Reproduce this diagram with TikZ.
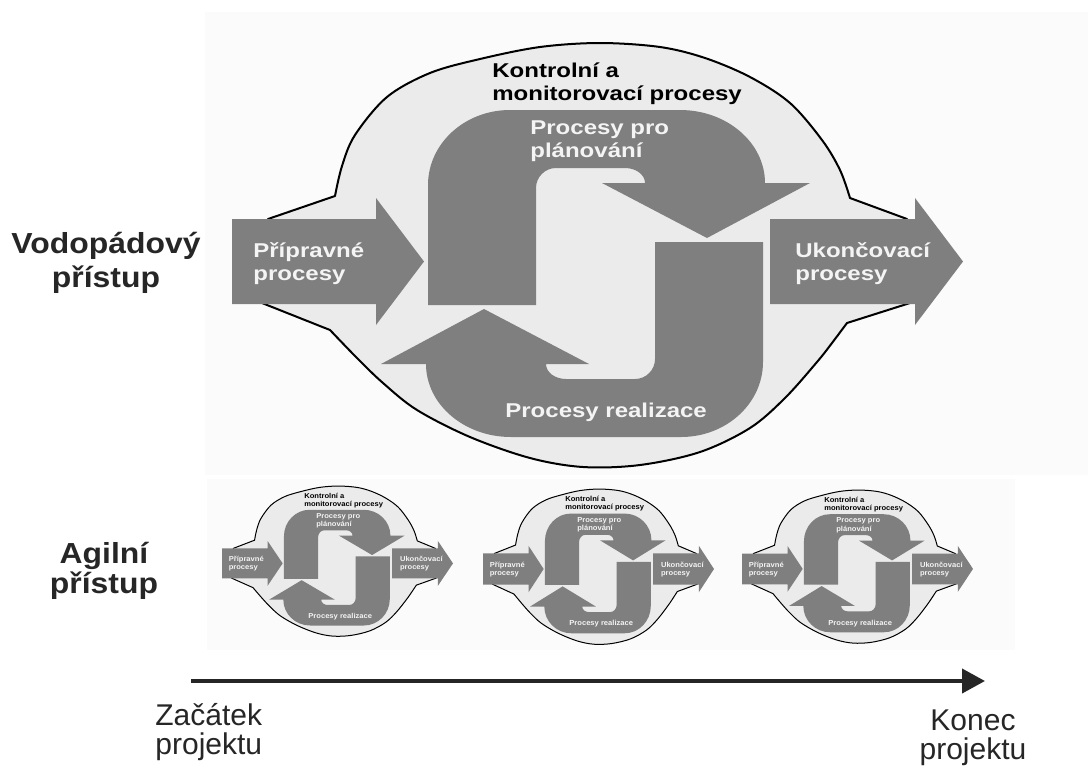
\documentclass[tikz,border=0pt]{standalone}
\usepackage{fontspec}
\setmainfont{Liberation Sans}
\newfontfamily\diagfont[FakeStretch=1.2]{Liberation Sans}
\newfontfamily\sidefont[FakeStretch=1.1]{Liberation Sans}
\usetikzlibrary{arrows.meta}
\definecolor{bandgray}{HTML}{7F7F7F}
\definecolor{blobgray}{HTML}{EBEBEB}
\definecolor{textdark}{HTML}{262626}
\definecolor{panelgray}{HTML}{FBFBFB}
\definecolor{labelwhite}{HTML}{F4F4F4}
\tikzset{
  blobshape/.style={fill=blobgray, draw=black, line join=round},
  band/.style={fill=bandgray},
  flowarrow/.style={fill=bandgray},
  panel/.style={fill=panelgray},
  inlabel/.style={font=\diagfont\bfseries\fontsize{10}{11.5}\selectfont, text=labelwhite, align=left, inner sep=0pt, anchor=base west},
  toplabel/.style={inlabel, text=black},
  sidelabel/.style={font=\sidefont\bfseries\fontsize{14.5}{17}\selectfont, text=textdark, align=center, inner sep=0pt, anchor=base},
  timelabel/.style={font=\fontsize{15}{14.5}\selectfont, text=textdark, inner sep=0pt, anchor=base},
  timeline/.style={draw=textdark, line width=2pt, -{Triangle[length=11.5pt, width=12pt]}},
}
\newcommand\planningpath{(428,305) -- (428,185)
  .. controls (428,143.6) and (464.7,110) .. (510,110) -- (680,110)
  .. controls (726.9,110) and (765,142.7) .. (765,183)
  -- (810,183) -- (707,238) -- (602,183) -- (645,183)
  .. controls (645,174.7) and (636,168) .. (625,168) -- (556,168)
  .. controls (545,168) and (536,177) .. (536,188) -- (536,305) -- cycle}
\newcommand\drawunit[2]{%
  \path[blobshape, line width=#2] (268,219) -- plot[smooth, tension=0.55] coordinates {(335,196) (342,166) (355,135) (387,97) (430,73) (480,59) (540,47) (600,43) (660,47) (705,58) (750,77) (790,103) (822,140) (840,170) (850,198)} -- (907,219) -- (910,303) -- plot[smooth, tension=0.55] coordinates {(847,323) (832,343) (817,362) (785,398) (750,428) (700,452) (640,465) (583,467) (530,458) (470,437) (417,410) (383,383) (357,358) (330,330)} -- (262,303) -- cycle;
  \path[band] \planningpath;
  \path[band, rotate around={180:(595.5,273.5)}] \planningpath;
  \path[flowarrow] (232,219) -- (376,219) -- (376,198) -- (424,261.5) -- (376,325) -- (376,304) -- (232,304) -- cycle;
  \path[flowarrow] (770,219) -- (915,219) -- (915,198) -- (963,261.5) -- (915,325) -- (915,304) -- (770,304) -- cycle;
  \node[toplabel] (kontrola#1) at (492,100) {Kontrolní a\\monitorovací procesy};
  \node[inlabel] (planovani#1) at (530,157) {Procesy pro\\plánování};
  \node[inlabel] (priprava#1) at (253,280) {Přípravné\\procesy};
  \node[inlabel] (ukonceni#1) at (795,280) {Ukončovací\\procesy};
  \node[inlabel] (realizace#1) at (505,417) {Procesy realizace};
}
\begin{document}
\begin{tikzpicture}[x=0.5pt, y=-0.5pt]
\useasboundingbox[fill=white] (0,0) rectangle (1088,767);
\path[panel] (205,12) rectangle (1088,475);
\path[panel] (207,479) rectangle (1015,650);
\begin{scope}
  \drawunit{m}{1pt}
\end{scope}
\begin{scope}[shift={(148.7,470.8)}, xscale=0.316, yscale=0.354, transform shape]
  \drawunit{a}{0.5pt}
\end{scope}
\begin{scope}[shift={(409.7,473.3)}, xscale=0.316, yscale=0.366, transform shape]
  \drawunit{b}{0.5pt}
\end{scope}
\begin{scope}[shift={(668.7,474.5)}, xscale=0.316, yscale=0.361, transform shape]
  \drawunit{c}{0.5pt}
\end{scope}
\node[sidelabel] (vodopad) at (106,287) {Vodopádový\\přístup};
\node[sidelabel, font=\sidefont\bfseries\fontsize{14.5}{13.5}\selectfont] (agile) at (104,593) {Agilní\\přístup};
\coordinate (tstart) at (191,681);
\coordinate (tend) at (985,681);
\draw[timeline] (tstart) -- (tend);
\node[timelabel, align=left, anchor=base west] (zacatek) at (155,754) {Začátek\\projektu};
\node[timelabel, align=center] (konec) at (973,759) {Konec\\projektu};
\end{tikzpicture}
\end{document}
